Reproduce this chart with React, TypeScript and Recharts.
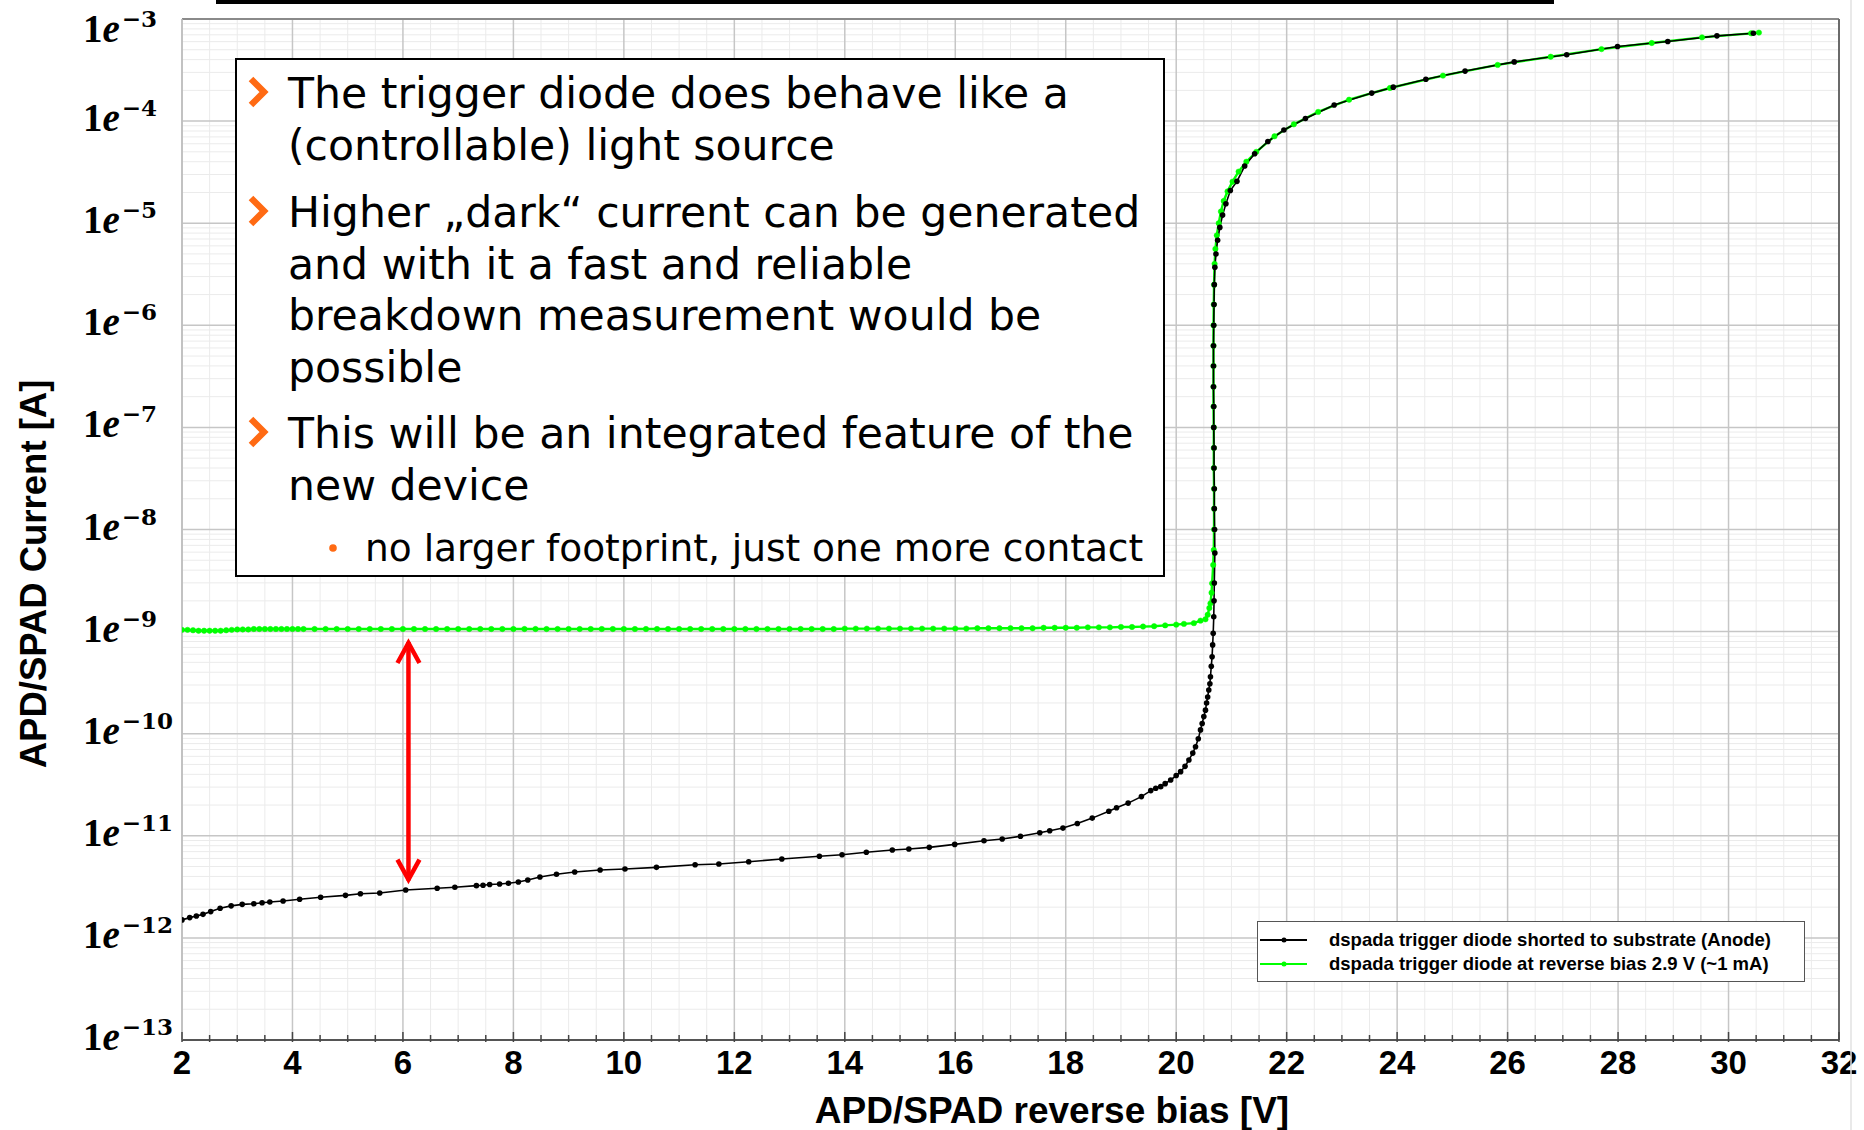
import React from "react";
import {
  LineChart,
  Line,
  XAxis,
  YAxis,
  CartesianGrid,
  ReferenceLine,
} from "recharts";

// ---- data (V, A) ----
const shortedPoints: [number, number][] = [
  [2.0, 1.5e-12], [2.14, 1.58e-12], [2.26, 1.64e-12], [2.38, 1.7e-12], [2.52, 1.81e-12],
  [2.69, 1.95e-12], [2.89, 2.06e-12], [3.09, 2.13e-12], [3.3, 2.16e-12], [3.45, 2.21e-12],
  [3.59, 2.25e-12], [3.83, 2.3e-12], [4.13, 2.39e-12], [4.51, 2.5e-12], [4.96, 2.61e-12],
  [5.23, 2.71e-12], [5.58, 2.75e-12], [6.05, 2.95e-12], [6.62, 3.06e-12], [6.94, 3.13e-12],
  [7.33, 3.25e-12], [7.45, 3.28e-12], [7.57, 3.33e-12], [7.75, 3.37e-12], [7.91, 3.43e-12],
  [8.09, 3.53e-12], [8.26, 3.69e-12], [8.48, 3.95e-12], [8.78, 4.2e-12], [9.11, 4.42e-12],
  [9.57, 4.62e-12], [10.02, 4.73e-12], [10.59, 4.91e-12], [11.29, 5.21e-12], [11.72, 5.3e-12],
  [12.26, 5.57e-12], [12.86, 5.93e-12], [13.54, 6.3e-12], [13.95, 6.53e-12], [14.39, 6.89e-12],
  [14.86, 7.26e-12], [15.16, 7.43e-12], [15.53, 7.71e-12], [15.99, 8.24e-12], [16.52, 8.95e-12],
  [16.85, 9.31e-12], [17.18, 9.89e-12], [17.53, 1.07e-11], [17.71, 1.12e-11], [17.95, 1.19e-11],
  [18.21, 1.32e-11], [18.48, 1.49e-11], [18.78, 1.74e-11], [18.92, 1.88e-11], [19.13, 2.09e-11],
  [19.37, 2.42e-11], [19.54, 2.77e-11], [19.63, 2.92e-11], [19.72, 3.03e-11], [19.8, 3.24e-11],
  [19.9, 3.52e-11], [20.0, 3.89e-11], [20.08, 4.25e-11], [20.16, 4.79e-11], [20.23, 5.53e-11],
  [20.3, 6.46e-11], [20.35, 7.46e-11], [20.4, 8.91e-11], [20.44, 1.09e-10], [20.47, 1.26e-10],
  [20.5, 1.47e-10], [20.53, 1.7e-10], [20.55, 2.0e-10], [20.57, 2.29e-10], [20.59, 2.68e-10],
  [20.61, 3.09e-10], [20.62, 3.61e-10], [20.635, 4.57e-10], [20.65, 5.68e-10], [20.66, 7.41e-10],
  [20.67, 9.62e-10], [20.68, 1.4e-9], [20.685, 2.0e-9], [20.69, 2.99e-9], [20.7, 5.89e-9],
  [20.695, 1.0e-8], [20.69, 1.6e-8], [20.69, 2.5e-8], [20.685, 4.0e-8], [20.685, 6.3e-8],
  [20.68, 1.0e-7], [20.68, 1.6e-7], [20.675, 2.5e-7], [20.675, 4.0e-7], [20.675, 6.3e-7],
  [20.68, 1.0e-6], [20.685, 1.6e-6], [20.69, 2.5e-6], [20.7, 3.7e-6], [20.72, 5.0e-6],
  [20.75, 6.8e-6], [20.79, 9.1e-6], [20.84, 1.2e-5], [20.9, 1.55e-5], [20.98, 2.09e-5],
  [21.1, 2.57e-5], [21.24, 3.63e-5], [21.42, 4.79e-5], [21.66, 6.31e-5], [21.95, 8.18e-5],
  [22.34, 1.06e-4], [22.86, 1.44e-4], [23.54, 1.88e-4], [23.93, 2.15e-4], [24.52, 2.57e-4],
  [25.23, 3.09e-4], [26.12, 3.8e-4], [27.07, 4.47e-4], [27.99, 5.37e-4], [28.9, 6.03e-4],
  [29.79, 6.84e-4], [30.45, 7.24e-4],
];

const triggerPoints: [number, number][] = [
  [2.0, 1.04e-9], [2.1, 1.04e-9], [2.2, 1.03e-9], [2.3, 1.02e-9], [2.4, 1.02e-9], [2.5, 1.02e-9],
  [2.6, 1.02e-9], [2.7, 1.02e-9], [2.8, 1.03e-9], [2.9, 1.04e-9],
  [3.0, 1.05e-9], [3.1, 1.05e-9], [3.2, 1.05e-9], [3.3, 1.06e-9], [3.4, 1.06e-9], [3.5, 1.06e-9],
  [3.6, 1.06e-9], [3.7, 1.06e-9], [3.8, 1.06e-9], [3.9, 1.06e-9], [4.0, 1.06e-9], [4.1, 1.06e-9],
  [4.2, 1.06e-9], [4.4, 1.06e-9], [4.6, 1.06e-9], [4.8, 1.06e-9], [5.0, 1.06e-9], [5.2, 1.06e-9],
  [5.4, 1.06e-9], [5.6, 1.06e-9], [5.8, 1.06e-9], [6.0, 1.06e-9], [6.2, 1.06e-9], [6.4, 1.06e-9],
  [6.6, 1.06e-9], [6.8, 1.06e-9], [7.0, 1.06e-9], [7.2, 1.06e-9], [7.4, 1.06e-9], [7.6, 1.06e-9],
  [7.8, 1.06e-9], [8.0, 1.06e-9], [8.2, 1.06e-9], [8.4, 1.06e-9], [8.6, 1.06e-9], [8.8, 1.06e-9],
  [9.0, 1.06e-9], [9.2, 1.06e-9], [9.4, 1.06e-9], [9.6, 1.06e-9], [9.8, 1.06e-9], [10.0, 1.06e-9],
  [10.2, 1.06e-9], [10.4, 1.06e-9], [10.6, 1.06e-9], [10.8, 1.06e-9], [11.0, 1.06e-9], [11.2, 1.06e-9],
  [11.4, 1.06e-9], [11.6, 1.06e-9], [11.8, 1.06e-9], [12.0, 1.06e-9], [12.2, 1.06e-9], [12.4, 1.06e-9],
  [12.6, 1.06e-9], [12.8, 1.06e-9], [13.0, 1.06e-9], [13.2, 1.06e-9], [13.4, 1.06e-9], [13.6, 1.06e-9],
  [13.8, 1.06e-9], [14.0, 1.07e-9], [14.2, 1.07e-9], [14.4, 1.07e-9], [14.6, 1.07e-9], [14.8, 1.07e-9],
  [15.0, 1.07e-9], [15.2, 1.07e-9], [15.4, 1.07e-9], [15.6, 1.07e-9], [15.8, 1.07e-9], [16.0, 1.07e-9],
  [16.2, 1.07e-9], [16.4, 1.08e-9], [16.6, 1.08e-9], [16.8, 1.08e-9], [17.0, 1.08e-9], [17.2, 1.08e-9],
  [17.4, 1.08e-9], [17.6, 1.09e-9], [17.8, 1.09e-9], [18.0, 1.09e-9], [18.2, 1.09e-9], [18.4, 1.1e-9],
  [18.6, 1.1e-9], [18.8, 1.1e-9], [19.0, 1.11e-9], [19.2, 1.11e-9], [19.4, 1.12e-9], [19.6, 1.13e-9],
  [19.8, 1.15e-9], [20.0, 1.17e-9], [20.14, 1.19e-9], [20.32, 1.21e-9], [20.44, 1.28e-9],
  [20.53, 1.32e-9], [20.57, 1.46e-9], [20.6, 1.7e-9], [20.62, 1.89e-9], [20.64, 2.4e-9],
  [20.65, 2.97e-9], [20.67, 4.5e-9], [20.68, 6.3e-9],
  [20.685, 1.0e-8], [20.685, 1.6e-8], [20.685, 2.5e-8], [20.68, 4.0e-8], [20.68, 6.3e-8],
  [20.68, 1.0e-7], [20.675, 1.6e-7], [20.675, 2.5e-7], [20.675, 4.0e-7], [20.675, 6.3e-7],
  [20.675, 1.0e-6], [20.68, 1.6e-6], [20.685, 2.5e-6], [20.695, 4.0e-6], [20.71, 5.6e-6],
  [20.735, 7.6e-6], [20.77, 1.0e-5], [20.81, 1.3e-5], [20.86, 1.65e-5], [20.93, 2.05e-5],
  [21.02, 2.55e-5], [21.13, 3.2e-5], [21.27, 4.0e-5], [21.45, 5.0e-5], [21.78, 7.1e-5],
  [22.13, 9.3e-5], [22.57, 1.23e-4], [23.13, 1.62e-4], [23.87, 2.11e-4], [24.83, 2.79e-4],
  [25.82, 3.55e-4], [26.78, 4.27e-4], [27.7, 5.07e-4], [28.61, 5.82e-4], [29.52, 6.61e-4],
  [30.41, 7.24e-4], [30.55, 7.36e-4],
];

const seriesNames = [
  "dspada trigger diode shorted to substrate (Anode)",
  "dspada trigger diode at reverse bias 2.9 V (~1 mA)",
];
const seriesColors = ["#000000", "#00ff00"];

const xDomain: [number, number] = [2, 32];
const xLabels = [2, 4, 6, 8, 10, 12, 14, 16, 18, 20, 22, 24, 26, 28, 30, 32];
const xTicks = Array.from({ length: 61 }, (_, k) => 2 + k * 0.5);
const xMinor = xTicks.filter((v) => !xLabels.includes(v));

const yTicks = [1e-13, 1e-12, 1e-11, 1e-10, 1e-9, 1e-8, 1e-7, 1e-6, 1e-5, 1e-4, 1e-3];
const yTickExp = ["−13", "−12", "−11", "−10", "−9", "−8", "−7", "−6", "−5", "−4", "−3"];
const yMinor: number[] = [];
yTicks.slice(0, -1).forEach((d) => {
  for (let m = 2; m <= 9; m++) yMinor.push(d * m);
});

// red double arrow annotation (V, A)
const arrowV = 6.1;
const arrowTop = 8.28e-10;
const arrowBottom = 3.48e-12;

const bullets = [
  { y: 93, lines: ["The trigger diode does behave like a", "(controllable) light source"] },
  {
    y: 212,
    lines: [
      "Higher „dark“ current can be generated",
      "and with it a fast and reliable",
      "breakdown measurement would be",
      "possible",
    ],
  },
  { y: 433, lines: ["This will be an integrated feature of the", "new device"] },
];
const subBullet = { y: 548, text: "no larger footprint, just one more contact" };

const sans = "'Liberation Sans', Arial, Helvetica, sans-serif";
const boxFont = "'DejaVu Sans', Verdana, sans-serif";
const orange = "#ff6a13";

const toRows = (pts: [number, number][]) => pts.map(([v, i]) => ({ v, i }));

// vertical grid positions: use the axis scale when available, else the plot offset
const verticalGen = (values: number[]) => (p: any) => {
  const s = p && p.xAxis && typeof p.xAxis.scale === "function" ? p.xAxis.scale : null;
  if (s) return values.map((v) => s(v));
  const o = p.offset;
  return values.map((v) => o.left + ((v - xDomain[0]) / (xDomain[1] - xDomain[0])) * o.width);
};

const XTick = (props: any) => {
  const { x, y, payload } = props;
  const major = xLabels.includes(payload.value);
  return (
    <g>
      <line x1={x} x2={x} y1={y - (major ? 8 : 5)} y2={y + 2} stroke="#444" strokeWidth={1.5} />
      {major && (
        <text x={x} y={y + 34} textAnchor="middle" fontFamily={sans} fontWeight="bold" fontSize={33} fill="#000">
          {payload.value}
        </text>
      )}
    </g>
  );
};

const YTick = (props: any) => {
  const { y, payload, index } = props;
  const idx = yTicks.indexOf(payload.value);
  const exp = yTickExp[idx >= 0 ? idx : index];
  const base = y + (idx === yTicks.length - 1 ? 23 : 10);
  return (
    <text x={83} y={base} fontFamily="'Liberation Serif', 'Times New Roman', serif" fontWeight="bold" fontSize={39} fill="#000">
      <tspan>1</tspan>
      <tspan fontStyle="italic">e</tspan>
      <tspan fontFamily="'DejaVu Serif', serif" fontSize={23} dy={-15} dx={2}>
        {exp}
      </tspan>
    </text>
  );
};

const DoubleArrow = (p: any) => {
  const { x1, y1, y2 } = p;
  const top = Math.min(y1, y2);
  const bot = Math.max(y1, y2);
  return (
    <g stroke="#ff0000" strokeWidth={4.5} fill="none">
      <line x1={x1} y1={top + 2} x2={x1} y2={bot - 2} />
      <polyline points={`${x1 - 11},${top + 23} ${x1},${top + 3} ${x1 + 11},${top + 23}`} />
      <polyline points={`${x1 - 11},${bot - 23} ${x1},${bot - 3} ${x1 + 11},${bot - 23}`} />
    </g>
  );
};

export default function App() {
  return (
    <div style={{ position: "absolute", left: 0, top: 0, width: 1864, height: 1130, background: "#fff", overflow: "hidden" }}>
      <LineChart width={1864} height={1130} margin={{ top: 19, right: 25, bottom: 0, left: 0 }}>
        {/* hidden axis that only carries the minor grid positions */}
        <YAxis yAxisId="minor" type="number" scale="log" domain={[1e-13, 1e-3]} ticks={yMinor} interval={0} hide allowDataOverflow />
        <CartesianGrid yAxisId="minor" stroke="#ebebeb" strokeWidth={1} verticalCoordinatesGenerator={verticalGen(xMinor)} />
        <CartesianGrid stroke="#c6c6c6" strokeWidth={1.5} verticalCoordinatesGenerator={verticalGen(xLabels)} />
        <XAxis
          type="number"
          dataKey="v"
          domain={xDomain}
          ticks={xTicks}
          interval={0}
          height={90}
          tickSize={0}
          tickMargin={0}
          tickLine={false}
          tick={<XTick />}
          axisLine={{ stroke: "#555", strokeWidth: 2 }}
          allowDataOverflow
        />
        <YAxis
          type="number"
          scale="log"
          domain={[1e-13, 1e-3]}
          ticks={yTicks}
          interval={0}
          width={182}
          tickSize={0}
          tickMargin={0}
          tickLine={false}
          tick={<YTick />}
          axisLine={{ stroke: "#bdbdbd", strokeWidth: 1.5 }}
          allowDataOverflow
        />
        <ReferenceLine y={1e-3} stroke="#8a8a8a" strokeWidth={2} />
        <ReferenceLine x={32} stroke="#6a6a6a" strokeWidth={2} />
        <Line
          data={toRows(triggerPoints)}
          dataKey="i"
          name={seriesNames[1]}
          stroke={seriesColors[1]}
          strokeWidth={2.4}
          dot={{ r: 2.7, fill: seriesColors[1], stroke: seriesColors[1], strokeWidth: 0.5 }}
          isAnimationActive={false}
        />
        <Line
          data={toRows(shortedPoints)}
          dataKey="i"
          name={seriesNames[0]}
          stroke={seriesColors[0]}
          strokeWidth={1.6}
          dot={{ r: 2.8, fill: seriesColors[0], stroke: seriesColors[0], strokeWidth: 0 }}
          isAnimationActive={false}
        />
        <ReferenceLine
          segment={[
            { x: arrowV, y: arrowTop },
            { x: arrowV, y: arrowBottom },
          ]}
          stroke="#ff0000"
          shape={DoubleArrow}
        />
      </LineChart>

      <svg width={1864} height={1130} style={{ position: "absolute", left: 0, top: 0, pointerEvents: "none" }}>
        <rect x={216} y={0} width={1338} height={4} fill="#000" />
        <line x1={1851} y1={0} x2={1851} y2={1130} stroke="#e2e2e2" strokeWidth={1.5} />
        <text
          x={33}
          y={574}
          transform="rotate(-90 33 574)"
          textAnchor="middle"
          dominantBaseline="central"
          fontFamily={sans}
          fontWeight="bold"
          fontSize={36.5}
          fill="#000"
        >
          APD/SPAD Current [A]
        </text>
        <text x={1052} y={1123} textAnchor="middle" fontFamily={sans} fontWeight="bold" fontSize={37} fill="#000">
          APD/SPAD reverse bias [V]
        </text>
      </svg>

      {/* text box */}
      <div
        style={{
          position: "absolute",
          left: 235,
          top: 58,
          width: 930,
          height: 519,
          boxSizing: "border-box",
          border: "2px solid #000",
          background: "#fff",
        }}
      />
      <svg width={1864} height={1130} style={{ position: "absolute", left: 0, top: 0, pointerEvents: "none" }}>
        {bullets.map((b) => (
          <polyline
            key={b.y}
            points={`251,${b.y - 14} 264,${b.y - 1} 251,${b.y + 12}`}
            fill="none"
            stroke={orange}
            strokeWidth={6.5}
          />
        ))}
        <circle cx={333} cy={subBullet.y} r={3.8} fill={orange} />
      </svg>
      {bullets.map((b) =>
        b.lines.map((ln, k) => (
          <div
            key={ln}
            style={{
              position: "absolute",
              left: 288,
              top: b.y - 26 + k * 51.5,
              fontFamily: boxFont,
              fontSize: 42.6,
              lineHeight: "52px",
              whiteSpace: "nowrap",
              color: "#000",
            }}
          >
            {ln}
          </div>
        ))
      )}
      <div
        style={{
          position: "absolute",
          left: 365,
          top: subBullet.y - 23,
          fontFamily: boxFont,
          fontSize: 37.5,
          lineHeight: "46px",
          whiteSpace: "nowrap",
          color: "#000",
        }}
      >
        {subBullet.text}
      </div>

      {/* legend */}
      <div
        style={{
          position: "absolute",
          left: 1257,
          top: 921,
          width: 548,
          height: 61,
          boxSizing: "border-box",
          border: "1.5px solid #555",
          background: "#fff",
        }}
      >
        {seriesNames.map((n, k) => (
          <div key={n} style={{ position: "absolute", left: 0, top: 6 + k * 24, height: 24, width: 546 }}>
            <svg width={50} height={24} style={{ position: "absolute", left: 2, top: 0 }}>
              <line x1={0} y1={12} x2={47} y2={12} stroke={seriesColors[k]} strokeWidth={1.8} />
              <circle cx={24} cy={12} r={2.5} fill={seriesColors[k]} />
            </svg>
            <div
              style={{
                position: "absolute",
                left: 71,
                top: 0,
                lineHeight: "24px",
                fontFamily: sans,
                fontWeight: "bold",
                fontSize: 18.5,
                whiteSpace: "nowrap",
                color: "#000",
              }}
            >
              {n}
            </div>
          </div>
        ))}
      </div>
    </div>
  );
}
